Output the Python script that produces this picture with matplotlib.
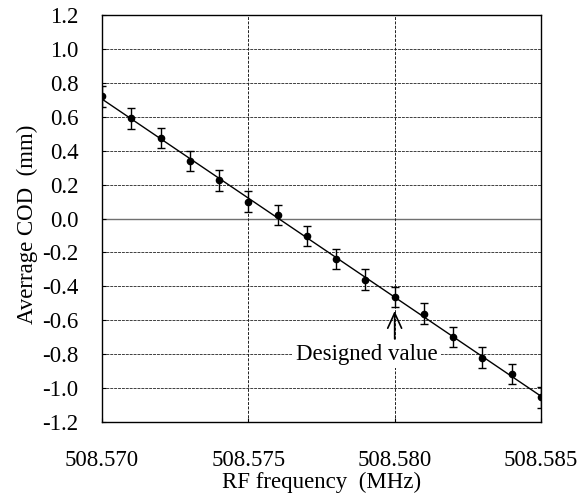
import numpy as np
import matplotlib
matplotlib.use("Agg")
import matplotlib.pyplot as plt
from matplotlib.ticker import FormatStrFormatter, MultipleLocator

plt.rcParams['font.family'] = ['Liberation Serif', 'DejaVu Serif']
plt.rcParams['axes.unicode_minus'] = False

# RF frequency scan (MHz) vs. average closed-orbit distortion (mm)
freq = [508.570, 508.571, 508.572, 508.573, 508.574, 508.575, 508.576, 508.577,
        508.578, 508.579, 508.580, 508.581, 508.582, 508.583, 508.584, 508.585]
cod = [0.72, 0.59, 0.475, 0.34, 0.225, 0.10, 0.02, -0.105,
       -0.237, -0.36, -0.463, -0.561, -0.70, -0.82, -0.918, -1.055]
cod_err = [0.06, 0.06, 0.06, 0.06, 0.06, 0.06, 0.06, 0.06,
           0.06, 0.06, 0.06, 0.06, 0.06, 0.06, 0.06, 0.06]
designed_freq = 508.580

FS = 16.5

fig = plt.figure(figsize=(5.87, 4.97), dpi=100)
ax = fig.add_axes([0.1738, 0.1509, 0.7478, 0.8189])

# horizontal grid every 0.2 mm, the zero line drawn solid
for yv in np.arange(-1.0, 1.01, 0.2):
    if abs(yv) < 1e-9:
        ax.axhline(0.0, color='#707070', lw=1.0, zorder=1)
    else:
        ax.axhline(yv, color='#404040', lw=0.7, ls=(0, (3, 1)), zorder=1)
for xv in [508.575, designed_freq]:
    ax.axvline(xv, color='#202020', lw=0.7, ls=(0, (3, 1.5)), zorder=1)

# linear fit through the scan
p = np.polyfit(np.array(freq) - 508.5775, cod, 1)
xf = np.array([freq[0], freq[-1]])
ax.plot(xf, np.polyval(p, xf - 508.5775), color='black', lw=1.0, zorder=3)

ax.errorbar(freq, cod, yerr=cod_err, fmt='o', color='black', ms=4.5,
            elinewidth=1.0, capsize=2.6, capthick=1.0, zorder=4)

ax.annotate('', xy=(designed_freq, -0.545), xytext=(designed_freq, -0.71),
            arrowprops=dict(arrowstyle='->,head_length=1.1,head_width=0.5',
                            color='black', lw=1.2, mutation_scale=10,
                            shrinkA=0, shrinkB=0), zorder=5)
ax.text(508.57904, -0.80, 'Designed value', ha='center', va='center',
        fontsize=FS, zorder=5,
        bbox=dict(facecolor='white', edgecolor='none', pad=2.5))

ax.set_xlim(508.570, 508.585)
ax.set_ylim(-1.2, 1.2)
ax.xaxis.set_major_locator(MultipleLocator(0.005))
ax.yaxis.set_major_locator(MultipleLocator(0.2))
ax.xaxis.set_major_formatter(FormatStrFormatter('%.3f'))
ax.yaxis.set_major_formatter(FormatStrFormatter('%.1f'))
ax.tick_params(direction='in', length=3, width=0.8, labelsize=FS)
ax.tick_params(axis='y', pad=17)
ax.tick_params(axis='x', pad=20)
for s in ax.spines.values():
    s.set_linewidth(1.0)

ax.set_xlabel('RF frequency  (MHz)', fontsize=FS, labelpad=1)
ax.set_ylabel('Averrage COD  (mm)', fontsize=FS)
ax.yaxis.set_label_coords(-0.145, 0.485)

fig.savefig('out.png', dpi=100)
